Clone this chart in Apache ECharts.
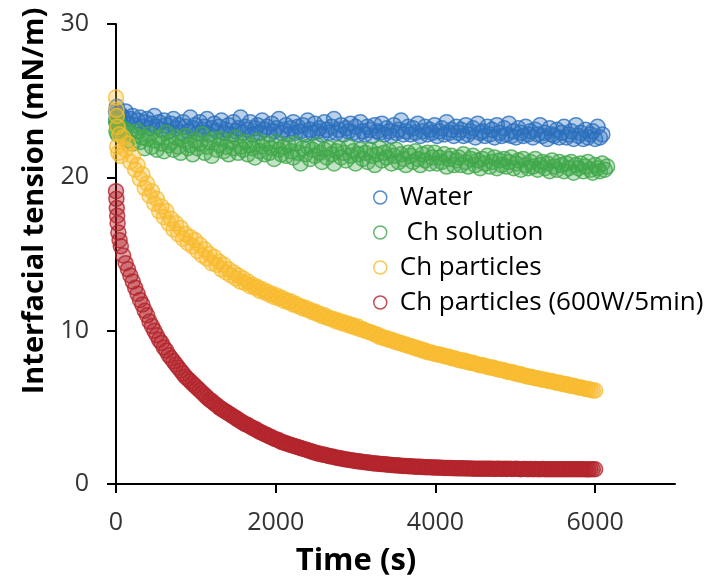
<!DOCTYPE html>
<html>
<head>
<meta charset="utf-8">
<script src="https://cdn.jsdelivr.net/npm/echarts@6/dist/echarts.min.js"></script>
<style>
  html, body { margin: 0; padding: 0; background: #fff; }
  #chart { width: 713px; height: 585px; }
</style>
</head>
<body>
<div id="chart"></div>
<script>
// Sampling times (s) shared by all four measurements
const timeS = [
  0, 5, 10, 15, 20, 30, 45, 60,
  90, 120, 150, 180, 210, 240, 270, 300, 330, 360,
  390, 420, 450, 480, 510, 540, 570, 600, 630, 660,
  690, 720, 750, 780, 810, 840, 870, 900, 930, 960,
  990, 1020, 1050, 1080, 1110, 1140, 1170, 1200, 1230, 1260,
  1290, 1320, 1350, 1380, 1410, 1440, 1470, 1500, 1530, 1560,
  1590, 1620, 1650, 1680, 1710, 1740, 1770, 1800, 1830, 1860,
  1890, 1920, 1950, 1980, 2010, 2040, 2070, 2100, 2130, 2160,
  2190, 2220, 2250, 2280, 2310, 2340, 2370, 2400, 2430, 2460,
  2490, 2520, 2550, 2580, 2610, 2640, 2670, 2700, 2730, 2760,
  2790, 2820, 2850, 2880, 2910, 2940, 2970, 3000, 3030, 3060,
  3090, 3120, 3150, 3180, 3210, 3240, 3270, 3300, 3330, 3360,
  3390, 3420, 3450, 3480, 3510, 3540, 3570, 3600, 3630, 3660,
  3690, 3720, 3750, 3780, 3810, 3840, 3870, 3900, 3930, 3960,
  3990, 4020, 4050, 4080, 4110, 4140, 4170, 4200, 4230, 4260,
  4290, 4320, 4350, 4380, 4410, 4440, 4470, 4500, 4530, 4560,
  4590, 4620, 4650, 4680, 4710, 4740, 4770, 4800, 4830, 4860,
  4890, 4920, 4950, 4980, 5010, 5040, 5070, 5100, 5130, 5160,
  5190, 5220, 5250, 5280, 5310, 5340, 5370, 5400, 5430, 5460,
  5490, 5520, 5550, 5580, 5610, 5640, 5670, 5700, 5730, 5760,
  5790, 5820, 5850, 5880, 5910, 5940, 5970, 6000, 6030, 6060,
  6090, 6120, 6150
];

// Interfacial tension (mN/m) at each sampling time
const water = [
  24.3, 23.8, 24.6, 24.0, 23.6, 24.2, 23.7, 24.1,
  23.9, 24.3, 23.5, 23.8, 24.0, 23.4, 23.7, 23.9, 23.3, 23.6,
  23.8, 23.2, 23.5, 24.0, 23.3, 23.6, 23.1, 23.7, 23.4, 23.0,
  23.5, 23.8, 23.2, 23.4, 22.9, 23.6, 23.3, 23.0, 23.9, 23.2,
  23.4, 22.9, 23.6, 23.1, 23.3, 23.8, 22.8, 23.2, 23.5, 23.0,
  23.3, 23.7, 22.9, 23.1, 23.4, 22.8, 23.6, 23.0, 23.2, 23.9,
  22.9, 23.3, 23.1, 23.6, 22.8, 23.2, 23.4, 22.9, 23.7, 23.1,
  23.3, 22.8, 23.5, 23.0, 23.2, 23.8, 22.9, 23.1, 23.4, 22.8,
  23.2, 23.6, 22.9, 23.3, 23.0, 23.4, 22.8, 23.7, 23.1, 22.9,
  23.5, 23.0, 23.2, 22.8, 23.6, 23.1, 22.9, 23.3, 23.8, 22.9,
  23.1, 23.4, 22.8, 23.2, 23.0, 23.5, 22.9, 23.3, 22.8, 23.6,
  23.0, 22.8, 23.3, 23.1, 22.7, 23.4, 23.0, 22.9, 23.5, 22.8,
  23.2, 23.0, 22.7, 23.4, 22.9, 23.1, 23.7, 22.8, 23.0, 23.3,
  22.8, 23.2, 22.9, 23.5, 22.7, 23.0, 23.3, 22.8, 23.1, 22.9,
  23.4, 22.7, 23.0, 23.2, 22.8, 23.6, 22.9, 23.1, 22.7, 23.3,
  22.9, 23.1, 22.7, 23.4, 22.8, 23.0, 23.2, 22.6, 23.5, 22.9,
  23.0, 22.7, 23.3, 22.8, 23.1, 22.6, 23.4, 22.9, 22.7, 23.2,
  22.8, 23.5, 22.7, 23.0, 22.6, 23.2, 22.9, 22.7, 23.3, 22.8,
  23.0, 22.6, 23.1, 22.8, 23.4, 22.7, 22.9, 22.5, 23.2, 22.8,
  22.7, 23.1, 22.6, 22.9, 23.3, 22.6, 22.8, 23.0, 22.5, 23.4,
  22.7, 22.9, 22.5, 23.1, 22.6, 22.8, 23.0, 22.5, 23.3, 22.6,
  22.8
];

const chSolution = [
  23.6, 23.0, 23.9, 23.3, 22.8, 23.5, 22.9, 23.2,
  22.6, 23.1, 22.4, 22.9, 22.2, 22.7, 23.0, 22.3, 22.6, 21.9,
  22.5, 22.8, 22.0, 22.4, 21.8, 22.6, 22.2, 21.7, 22.9, 22.1,
  22.3, 21.8, 22.6, 22.0, 21.6, 22.4, 22.7, 21.9, 22.1, 21.5,
  22.4, 21.9, 22.2, 22.8, 21.6, 22.0, 22.3, 21.4, 22.5, 21.8,
  22.1, 22.5, 21.7, 22.0, 21.5, 22.3, 21.9, 22.6, 21.6, 22.0,
  21.8, 22.3, 21.5, 22.1, 21.9, 21.3, 22.4, 21.7, 22.0, 21.5,
  22.2, 21.6, 21.9, 21.2, 22.3, 21.8, 21.5, 22.0, 21.4, 22.1,
  21.7, 21.3, 22.2, 21.6, 20.9, 21.9, 21.5, 22.0, 21.2, 21.8,
  21.4, 22.1, 21.6, 21.0, 21.8, 21.3, 21.9, 21.5, 20.9, 21.7,
  21.9, 21.3, 21.6, 21.1, 22.0, 21.4, 21.7, 20.9, 21.5, 21.8,
  21.2, 21.6, 21.0, 21.8, 21.4, 20.8, 21.5, 21.9, 21.1, 21.6,
  21.3, 21.7, 20.9, 21.4, 21.8, 21.0, 21.5, 21.2, 20.8, 21.6,
  21.4, 21.0, 21.7, 21.2, 20.8, 21.5, 21.1, 21.6, 20.9, 21.3,
  21.6, 20.9, 21.3, 21.0, 21.5, 20.7, 21.2, 21.4, 20.8, 21.1,
  21.3, 20.8, 21.5, 21.0, 20.7, 21.2, 21.4, 20.8, 21.1, 20.6,
  21.2, 20.9, 21.4, 20.7, 21.0, 21.3, 20.6, 21.1, 20.8, 21.2,
  20.7, 21.0, 21.3, 20.6, 20.9, 21.1, 20.5, 21.2, 20.8, 20.6,
  21.0, 20.7, 21.2, 20.5, 20.8, 21.0, 20.6, 20.9, 20.4, 21.1,
  20.7, 20.5, 21.0, 20.8, 20.4, 20.9, 20.6, 21.0, 20.3, 20.8,
  20.6, 20.9, 20.4, 20.7, 21.0, 20.5, 20.3, 20.8, 20.6, 20.4,
  20.9, 20.5, 20.7
];

const chParticles = [
  25.2, 24.4, 24.0, 22.0, 23.3, 21.6, 22.8, 21.4,
  22.6, 21.8, 22.2, 21.0, 21.4, 20.5, 20.8, 19.9, 20.2, 19.3,
  19.6, 18.8, 19.1, 18.3, 18.6, 17.8, 18.1, 17.4, 17.8, 17.0,
  17.3, 16.6, 17.0, 16.3, 16.7, 16.0, 16.3, 15.7, 16.1, 15.5,
  15.9, 15.2, 15.6, 14.9, 15.3, 14.7, 15.0, 14.4, 14.8, 14.3,
  14.5, 14.0, 14.3, 13.8, 14.0, 13.6, 13.8, 13.4, 13.6, 13.2,
  13.4, 13.1, 13.2, 12.9, 13.0, 12.8, 12.85, 12.6, 12.7, 12.5,
  12.55, 12.35, 12.4, 12.2, 12.3, 12.1, 12.15, 11.95, 12.0, 11.85,
  11.9, 11.7, 11.75, 11.6, 11.6, 11.45, 11.5, 11.35, 11.35, 11.2,
  11.25, 11.1, 11.1, 10.95, 11.0, 10.85, 10.85, 10.75, 10.75, 10.6,
  10.65, 10.5, 10.55, 10.4, 10.45, 10.3, 10.35, 10.2, 10.25, 10.1,
  10.1, 10.0, 9.95, 9.9, 9.85, 9.75, 9.75, 9.6, 9.6, 9.5,
  9.5, 9.4, 9.4, 9.3, 9.3, 9.2, 9.2, 9.1, 9.1, 9.0,
  9.0, 8.9, 8.9, 8.8, 8.8, 8.7, 8.7, 8.6, 8.6, 8.55,
  8.5, 8.45, 8.45, 8.4, 8.35, 8.3, 8.3, 8.2, 8.2, 8.15,
  8.1, 8.05, 8.05, 8.0, 7.95, 7.9, 7.9, 7.85, 7.8, 7.75,
  7.75, 7.7, 7.65, 7.6, 7.6, 7.55, 7.5, 7.45, 7.45, 7.4,
  7.35, 7.3, 7.3, 7.25, 7.2, 7.15, 7.15, 7.1, 7.05, 7.0,
  7.0, 6.95, 6.9, 6.9, 6.85, 6.8, 6.8, 6.75, 6.7, 6.7,
  6.65, 6.6, 6.6, 6.55, 6.5, 6.5, 6.45, 6.4, 6.4, 6.35,
  6.3, 6.3, 6.25, 6.2, 6.2, 6.15, 6.1, 6.1
];

const chParticles600W = [
  19.1, 18.6, 18.0, 17.5, 17.0, 16.4, 15.9, 15.5,
  14.9, 14.4, 14.0, 13.6, 13.2, 12.8, 12.4, 12.0, 11.7, 11.3,
  11.0, 10.6, 10.3, 10.0, 9.7, 9.4, 9.2, 8.9, 8.7, 8.4,
  8.2, 8.0, 7.8, 7.6, 7.4, 7.2, 7.0, 6.85, 6.7, 6.55,
  6.4, 6.25, 6.1, 5.95, 5.8, 5.65, 5.5, 5.4, 5.25, 5.15,
  5.0, 4.9, 4.8, 4.7, 4.6, 4.5, 4.4, 4.3, 4.2, 4.1,
  4.0, 3.9, 3.85, 3.75, 3.65, 3.6, 3.5, 3.4, 3.35, 3.25,
  3.2, 3.1, 3.05, 2.95, 2.9, 2.85, 2.75, 2.7, 2.65, 2.6,
  2.55, 2.5, 2.45, 2.4, 2.35, 2.3, 2.25, 2.2, 2.15, 2.1,
  2.05, 2.0, 1.97, 1.93, 1.9, 1.86, 1.82, 1.79, 1.76, 1.72,
  1.69, 1.66, 1.63, 1.6, 1.58, 1.55, 1.53, 1.5, 1.48, 1.46,
  1.44, 1.42, 1.4, 1.38, 1.36, 1.34, 1.33, 1.31, 1.3, 1.28,
  1.27, 1.25, 1.24, 1.23, 1.22, 1.2, 1.19, 1.18, 1.17, 1.16,
  1.15, 1.14, 1.13, 1.12, 1.12, 1.11, 1.1, 1.09, 1.09, 1.08,
  1.07, 1.07, 1.06, 1.06, 1.05, 1.05, 1.04, 1.04, 1.03, 1.03,
  1.02, 1.02, 1.02, 1.01, 1.01, 1.01, 1.0, 1.0, 1.0, 0.99,
  1.0, 0.99, 0.99, 1.0, 0.99, 0.98, 0.99, 0.99, 0.98, 0.99,
  0.98, 0.99, 0.98, 0.98, 0.99, 0.98, 0.97, 0.98, 0.98, 0.97,
  0.98, 0.97, 0.98, 0.97, 0.97, 0.98, 0.97, 0.97, 0.96, 0.97,
  0.97, 0.96, 0.97, 0.97, 0.96, 0.97, 0.96, 0.96, 0.97, 0.96,
  0.96, 0.97, 0.96, 0.96, 0.95, 0.96, 0.96, 0.96
];

const seriesNames = ['Water', ' Ch solution', 'Ch particles', 'Ch particles (600W/5min)'];
const seriesValues = [water, chSolution, chParticles, chParticles600W];
const seriesColors = ['#2a6fbd', '#40a84a', '#f8bc30', '#b3232a'];
// tint inside each ring so the densely overlapping rings read as a solid band
const seriesTints = ['rgba(42,111,189,0.4)', 'rgba(64,168,74,0.4)', 'rgba(248,188,48,0.42)', 'rgba(179,35,42,0.5)'];

const xTicks = [0, 2000, 4000, 6000];
const yTicks = [0, 10, 20, 30];

const FONT = '"Open Sans", "Noto Sans", sans-serif';

const chart = echarts.init(document.getElementById('chart'), null, { renderer: 'canvas' });

const series = seriesNames.map((name, k) => ({
  name: name,
  type: 'scatter',
  symbol: 'circle',
  symbolSize: 15,
  data: seriesValues[k].map((v, i) => [timeS[i], v]),
  itemStyle: {
    color: seriesTints[k],
    borderColor: seriesColors[k],
    borderWidth: 1.5
  },
  emphasis: { disabled: true },
  silent: true
}));

chart.setOption({
  animation: false,
  backgroundColor: '#ffffff',
  grid: { left: 116, right: 38, top: 24, bottom: 101, containLabel: false },
  xAxis: {
    type: 'value',
    min: 0,
    max: 7000,
    interval: 2000,
    name: 'Time (s)',
    nameLocation: 'middle',
    nameGap: 62,
    nameTextStyle: {
      fontFamily: FONT, fontSize: 31, fontWeight: 'bold', color: '#000',
      padding: [0, 79, 0, 0]
    },
    axisLine: { onZero: false, lineStyle: { color: '#000', width: 2 } },
    axisTick: { show: true, customValues: xTicks, length: 9, inside: false, lineStyle: { color: '#000', width: 2 } },
    axisLabel: {
      customValues: xTicks,
      margin: 26,
      formatter: (v) => String(v),
      fontFamily: FONT, fontSize: 25, color: '#333'
    },
    splitLine: { show: false }
  },
  yAxis: {
    type: 'value',
    min: 0,
    max: 30,
    interval: 10,
    name: 'Interfacial tension (mN/m)',
    nameLocation: 'middle',
    nameGap: 64,
    nameRotate: 90,
    nameTextStyle: {
      fontFamily: FONT, fontSize: 29, fontWeight: 'bold', color: '#000',
      padding: [0, 0, 0, 106]
    },
    axisLine: { show: true, lineStyle: { color: '#000', width: 2 } },
    axisTick: { show: true, customValues: yTicks, length: 9, inside: false, lineStyle: { color: '#000', width: 2 } },
    axisLabel: {
      customValues: yTicks,
      margin: 27,
      formatter: (v) => String(v),
      fontFamily: FONT, fontSize: 25, color: '#333'
    },
    splitLine: { show: false }
  },
  legend: {
    orient: 'vertical',
    left: 368,
    top: 175,
    itemWidth: 13,
    itemHeight: 13,
    itemGap: 0,
    icon: 'circle',
    selectedMode: false,
    data: seriesNames,
    itemStyle: { color: 'rgba(255,255,255,0)', borderWidth: 1.5 },
    textStyle: {
      fontFamily: FONT, fontSize: 26, color: '#000', lineHeight: 35,
      padding: [0, 0, 0, 8]
    }
  },
  series: series
});
</script>
</body>
</html>
